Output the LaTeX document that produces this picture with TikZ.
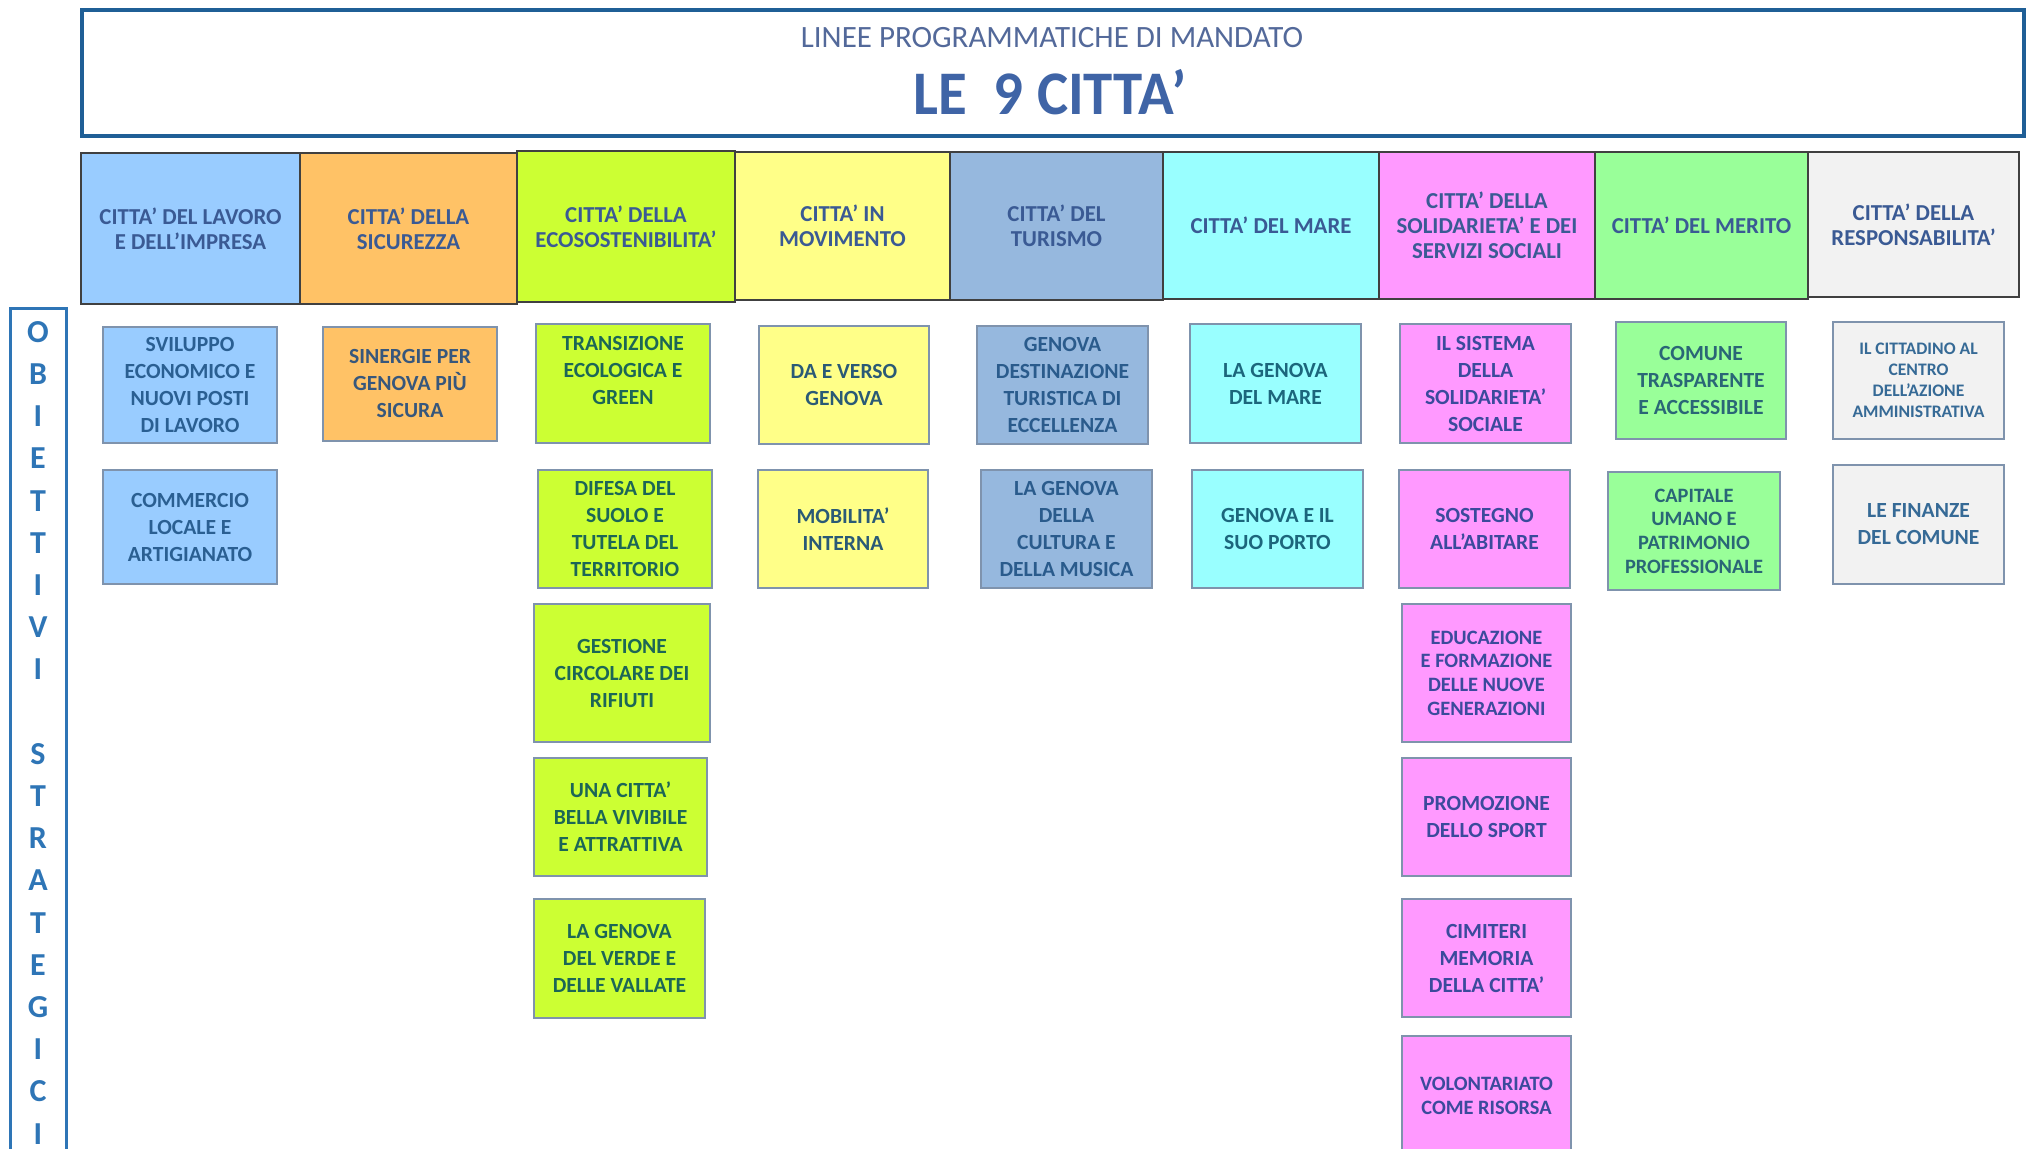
\documentclass[tikz,border=0pt]{standalone}
\usepackage{fontspec}
\setmainfont{Carlito}
\newfontfamily\condfont[FakeStretch=0.95]{Carlito}
\definecolor{lav}{HTML}{99CCFF}
\definecolor{sic}{HTML}{FFC266}
\definecolor{eco}{HTML}{CCFF33}
\definecolor{mov}{HTML}{FFFF88}
\definecolor{tur}{HTML}{96B8DE}
\definecolor{mar}{HTML}{99FFFF}
\definecolor{sol}{HTML}{FF99FF}
\definecolor{mer}{HTML}{99FF99}
\definecolor{res}{HTML}{F2F2F2}
\definecolor{hdrtext}{HTML}{3A5A94}
\definecolor{lavt}{HTML}{2A5F92}
\definecolor{sict}{HTML}{37577C}
\definecolor{ecot}{HTML}{1C6656}
\definecolor{movt}{HTML}{2A5A76}
\definecolor{turt}{HTML}{2A5B8C}
\definecolor{mart}{HTML}{1C667C}
\definecolor{solt}{HTML}{3B4A9C}
\definecolor{mert}{HTML}{2A6676}
\definecolor{rest}{HTML}{366A96}
\definecolor{frameblue}{HTML}{1F5F96}
\definecolor{leftblue}{HTML}{2E75B6}
\definecolor{subtitlec}{HTML}{53699A}
\definecolor{titlec}{HTML}{3F64A6}
\definecolor{subborder}{HTML}{7F93AD}
\tikzset{
  hdr/.style={draw=black!75, line width=0.75pt, inner sep=0pt, outer sep=0pt,
    align=center, text=hdrtext, font=\bfseries\fontsize{11.4}{12.6}\selectfont},
  sub/.style={draw=subborder, line width=0.8pt, inner sep=0pt, outer sep=0pt,
    align=center, font=\bfseries\fontsize{10.8}{13.5}\selectfont},
  subsmall/.style={sub, font=\bfseries\fontsize{10.2}{11.8}\selectfont},
  subtiny/.style={sub, font=\bfseries\fontsize{8.8}{10.5}\selectfont},
  frame/.style={draw=frameblue, line width=2pt, inner sep=0pt, outer sep=0pt, fill=white},
  leftframe/.style={draw=leftblue, line width=1.5pt, inner sep=0pt, outer sep=0pt},
  letter/.style={text=leftblue, font=\bfseries\fontsize{16}{16}\selectfont, inner sep=0pt},
}
\newcommand{\bx}[7]{\node[#6, minimum width={(#4-#2)*0.5pt}, minimum height={(#5-#3)*0.5pt}] (#1) at ({(#2+#4)/2},{(#3+#5)/2}) {#7};}
\begin{document}
\begin{tikzpicture}[x=0.5pt, y=-0.5pt]
\fill[white] (0,0) rectangle (2029,1149);
\useasboundingbox (0,0) rectangle (2029,1149);
% header frame
\bx{head}{82}{10}{2024}{136}{frame}{}
\node[anchor=base, text=subtitlec, font=\fontsize{15.5}{16}\selectfont, inner sep=0pt] (subtitle) at (1052,48) {LINEE PROGRAMMATICHE DI MANDATO};
\node[anchor=base, text=titlec, font=\condfont\bfseries\fontsize{31}{32}\selectfont, inner sep=0pt] (title) at (1050,115) {LE\ \ 9 CITTA’};
% left frame
\bx{left}{10}{309}{66}{1170}{leftframe}{}
\foreach \ch/\k in {O/0,B/1,I/2,E/3,T/4,T/5,I/6,V/7,I/8,S/10,T/11,R/12,A/13,T/14,E/15,G/16,I/17,C/18,I/19}
  \node[letter] (obj\k) at (38,{332+42.2*\k}) {\ch};
% city headers
\bx{hLav}{81}{153}{300}{304}{hdr,fill=lav}{CITTA’ DEL LAVORO\\E DELL’IMPRESA}
\bx{hSic}{300}{153}{517}{304}{hdr,fill=sic}{CITTA’ DELLA\\SICUREZZA}
\bx{hEco}{517}{151}{735}{302}{hdr,fill=eco}{CITTA’ DELLA\\ECOSOSTENIBILITA’}
\bx{hMov}{735}{152}{950}{300}{hdr,fill=mov}{CITTA’ IN\\MOVIMENTO}
\bx{hTur}{950}{152}{1163}{300}{hdr,fill=tur}{CITTA’ DEL\\TURISMO}
\bx{hMar}{1163}{152}{1379}{299}{hdr,fill=mar}{CITTA’ DEL MARE}
\bx{hSol}{1379}{152}{1595}{299}{hdr,fill=sol}{CITTA’ DELLA\\SOLIDARIETA’ E DEI\\SERVIZI SOCIALI}
\bx{hMer}{1595}{152}{1808}{299}{hdr,fill=mer}{CITTA’ DEL MERITO}
\bx{hRes}{1808}{152}{2019}{297}{hdr,fill=res}{CITTA’ DELLA\\RESPONSABILITA’}
% lavoro
\bx{lav1}{103}{327}{277}{443}{sub,fill=lav,text=lavt}{SVILUPPO\\ECONOMICO E\\NUOVI POSTI\\DI LAVORO}
\bx{lav2}{103}{470}{277}{584}{sub,fill=lav,text=lavt}{COMMERCIO\\LOCALE E\\ARTIGIANATO}
% sicurezza
\bx{sic1}{323}{327}{497}{441}{sub,fill=sic,text=sict}{SINERGIE PER\\GENOVA PIÙ\\SICURA}
% ecosostenibilita
\bx{eco1}{536}{324}{710}{443}{sub,fill=eco,text=ecot}{TRANSIZIONE\\ECOLOGICA E\\GREEN\\~}
\bx{eco2}{538}{470}{712}{588}{sub,fill=eco,text=ecot}{DIFESA DEL\\SUOLO E\\TUTELA DEL\\TERRITORIO}
\bx{eco3}{534}{604}{710}{742}{sub,fill=eco,text=ecot}{GESTIONE\\CIRCOLARE DEI\\RIFIUTI}
\bx{eco4}{534}{758}{707}{876}{sub,fill=eco,text=ecot}{UNA CITTA'\\BELLA VIVIBILE\\E ATTRATTIVA}
\bx{eco5}{534}{899}{705}{1018}{sub,fill=eco,text=ecot}{LA GENOVA\\DEL VERDE E\\DELLE VALLATE}
% movimento
\bx{mov1}{759}{326}{929}{444}{sub,fill=mov,text=movt}{DA E VERSO\\GENOVA}
\bx{mov2}{758}{470}{928}{588}{sub,fill=mov,text=movt}{MOBILITA’\\INTERNA}
% turismo
\bx{tur1}{977}{326}{1148}{444}{sub,fill=tur,text=turt}{GENOVA\\DESTINAZIONE\\TURISTICA DI\\ECCELLENZA}
\bx{tur2}{981}{470}{1152}{588}{sub,fill=tur,text=turt}{LA GENOVA\\DELLA\\CULTURA E\\DELLA MUSICA}
% mare
\bx{mar1}{1190}{324}{1361}{443}{sub,fill=mar,text=mart}{LA GENOVA\\DEL MARE}
\bx{mar2}{1192}{470}{1363}{588}{sub,fill=mar,text=mart}{GENOVA E IL\\SUO PORTO}
% solidarieta
\bx{sol1}{1400}{324}{1571}{443}{sub,fill=sol,text=solt}{IL SISTEMA\\DELLA\\SOLIDARIETA'\\SOCIALE}
\bx{sol2}{1399}{470}{1570}{588}{sub,fill=sol,text=solt}{SOSTEGNO\\ALL'ABITARE}
\bx{sol3}{1402}{604}{1571}{742}{subsmall,fill=sol,text=solt}{EDUCAZIONE\\E FORMAZIONE\\DELLE NUOVE\\GENERAZIONI}
\bx{sol4}{1402}{758}{1571}{876}{sub,fill=sol,text=solt}{PROMOZIONE\\DELLO SPORT}
\bx{sol5}{1402}{899}{1571}{1017}{sub,fill=sol,text=solt}{CIMITERI\\MEMORIA\\DELLA CITTA’}
\bx{sol6}{1402}{1036}{1571}{1156}{subsmall,fill=sol,text=solt}{VOLONTARIATO\\COME RISORSA}
% merito
\bx{mer1}{1616}{322}{1786}{439}{sub,fill=mer,text=mert}{COMUNE\\TRASPARENTE\\E ACCESSIBILE}
\bx{mer2}{1608}{472}{1780}{590}{subsmall,fill=mer,text=mert}{CAPITALE\\UMANO E\\PATRIMONIO\\PROFESSIONALE}
% responsabilita
\bx{res1}{1833}{322}{2004}{439}{subtiny,fill=res,text=rest}{IL CITTADINO AL\\CENTRO\\DELL'AZIONE\\AMMINISTRATIVA}
\bx{res2}{1833}{465}{2004}{584}{sub,fill=res,text=rest}{LE FINANZE\\DEL COMUNE}
\end{tikzpicture}
\end{document}
